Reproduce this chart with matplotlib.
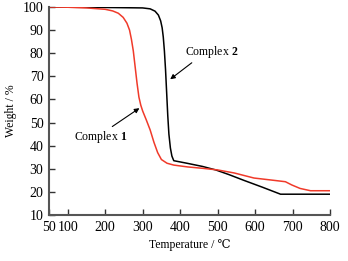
import matplotlib
matplotlib.use("Agg")
import matplotlib.pyplot as plt

plt.rcParams['font.family'] = ['Liberation Serif', 'DejaVu Serif']
plt.rcParams['mathtext.fontset'] = 'custom'
plt.rcParams['mathtext.rm'] = 'Liberation Serif'
plt.rcParams['mathtext.bf'] = 'Liberation Serif:bold'

# Complex 1 (red)
temp1 = [50, 100, 150, 200, 220, 235, 248, 258, 265, 270, 275, 280, 285, 290, 295, 300, 310, 320,
         330, 340, 350, 365, 383, 420, 460, 500, 544, 597, 650, 681, 698, 720, 748, 770, 800]
weight1 = [100, 99.9, 99.6, 99, 98.3, 97.3, 95.5, 93, 90, 86, 81, 74, 67, 61, 57.5, 55, 51, 46.8,
           41.5, 37, 34, 32.4, 31.6, 30.8, 30.2, 29.5, 28.2, 26, 25, 24.4, 23, 21.5, 20.5, 20.5, 20.5]

# Complex 2 (black)
temp2 = [50, 100, 200, 300, 320, 333, 342, 348, 352, 355, 358, 361, 364, 367, 370, 374, 378,
         383, 418, 460, 495, 530, 570, 620, 668, 700, 800]
weight2 = [100, 99.9, 99.8, 99.6, 99.2, 98.2, 96.5, 94, 91, 87, 81, 73, 63, 53, 45, 39, 35.5,
           33.5, 32.4, 31, 29.5, 27.5, 25, 22, 19, 19, 19]

xticks = [50, 100, 200, 300, 400, 500, 600, 700, 800]
yticks = [10, 20, 30, 40, 50, 60, 70, 80, 90, 100]

fig = plt.figure(figsize=(3.48, 2.61), dpi=100)
ax = fig.add_axes([49 / 348, 46 / 261, 281 / 348, 208 / 261])

ax.plot(temp2, weight2, color='black', lw=1.1)
ax.plot(temp1, weight1, color='#f03a2a', lw=1.1)

ax.set_xlim(50, 800)
ax.set_ylim(10, 100)
ax.set_xticks(xticks)
ax.set_yticks(yticks)
ax.tick_params(direction='in', length=4, width=1, labelsize=10, pad=4, color='#333333')

for side in ['top', 'right']:
    ax.spines[side].set_visible(False)
for side in ['left', 'bottom']:
    ax.spines[side].set_linewidth(1.5)
    ax.spines[side].set_color('#555555')

ax.set_xlabel('Temperature / ℃', fontsize=8.5, labelpad=4)
ax.set_ylabel('Weight / %', fontsize=8.5, labelpad=4)

arrow = dict(arrowstyle='-|>', color='black', lw=0.8, mutation_scale=7)
ax.annotate('', xy=(367.6, 68), xytext=(437, 76.6), arrowprops=arrow)
ax.text(414, 80.5, r'Complex $\mathbf{2}$', fontsize=8.5, va='center', ha='left')
ax.annotate('', xy=(297.4, 56.9), xytext=(212.8, 47.6), arrowprops=arrow)
ax.text(188.8, 43.7, r'Complex $\mathbf{1}$', fontsize=8.5, va='center', ha='center')

fig.savefig('out.png', dpi=100)
